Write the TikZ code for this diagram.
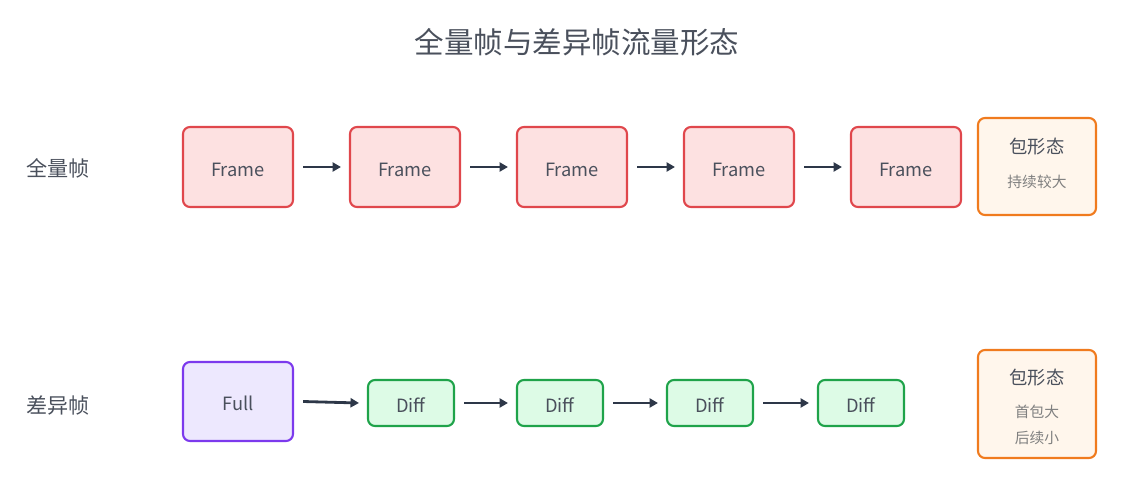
\documentclass[tikz,border=0pt]{standalone}
\usepackage{fontspec}
\setmainfont{Noto Sans CJK SC}
\usetikzlibrary{arrows.meta}
\definecolor{framefill}{HTML}{FDE1E1}
\definecolor{frameline}{HTML}{E0474C}
\definecolor{fullfill}{HTML}{EDE8FE}
\definecolor{fullline}{HTML}{7C3AED}
\definecolor{difffill}{HTML}{DDFBE6}
\definecolor{diffline}{HTML}{1FA34A}
\definecolor{pktfill}{HTML}{FFF6EC}
\definecolor{pktline}{HTML}{F07B1E}
\definecolor{arrowcol}{HTML}{2D3748}
\definecolor{textcol}{HTML}{4A505C}
\newcommand{\lowered}[1]{\smash{\raisebox{-6.5pt}{#1}}}
\tikzset{
  box/.style={draw, line width=1.5pt, rounded corners=5pt, inner sep=0pt, text=textcol, font=\fontsize{13}{15}\selectfont},
  frame/.style={box, fill=framefill, draw=frameline, minimum width=110*0.025cm, minimum height=80*0.025cm},
  full/.style={box, fill=fullfill, draw=fullline, minimum width=110*0.025cm, minimum height=79*0.025cm},
  diff/.style={box, fill=difffill, draw=diffline, minimum width=86*0.025cm, minimum height=46*0.025cm},
  pkt/.style={box, fill=pktfill, draw=pktline, minimum width=118*0.025cm},
  flow/.style={-{Triangle[length=6pt,width=6.5pt]}, line width=2pt, draw=arrowcol},
  rowlabel/.style={text=textcol, font=\fontsize{15}{17}\selectfont},
  sub/.style={text=gray, font=\fontsize{10.5}{12}\selectfont}
}
\begin{document}
\begin{tikzpicture}[x=0.025cm, y=-0.025cm]
  \useasboundingbox (0,0) rectangle (1124,486);
  % title
  \node[text=textcol, font=\fontsize{21}{25}\selectfont] (title) at (577,42) {全量帧与差异帧流量形态};

  % full-frame row
  \node[rowlabel] (lblA) at (58,168) {全量帧};
  \foreach \i/\x in {1/238, 2/405, 3/572, 4/739, 5/906}
    \node[frame] (F\i) at (\x,167) {\lowered{Frame}};
  \foreach \i/\j in {1/2, 2/3, 3/4, 4/5}
    \draw[flow] ([xshift=9*0.025cm]F\i.east) -- ([xshift=-8*0.025cm]F\j.west);
  \node[pkt, minimum height=97*0.025cm] (P1) at (1037,166.5) {};
  \node[text=textcol, font=\fontsize{13}{15}\selectfont] (P1t) at (1037,147) {包形态};
  \node[sub] (P1s) at (1037,182) {持续较大};

  % diff-frame row
  \node[rowlabel] (lblB) at (58,405) {差异帧};
  \node[full] (D0) at (238,401.5) {\lowered{Full}};
  \foreach \i/\x in {1/411, 2/560, 3/710, 4/861}
    \node[diff] (D\i) at (\x,403) {\lowered{Diff}};
  \draw[flow] ([xshift=9*0.025cm]D0.east) -- ([xshift=-8*0.025cm]D1.west);
  \foreach \i/\j in {1/2, 2/3, 3/4}
    \draw[flow] ([xshift=9*0.025cm]D\i.east) -- ([xshift=-8*0.025cm]D\j.west);
  \node[pkt, minimum height=108*0.025cm] (P2) at (1037,404) {};
  \node[text=textcol, font=\fontsize{13}{15}\selectfont] (P2t) at (1037,378) {包形态};
  \node[sub] (P2s) at (1037,412) {首包大};
  \node[sub] (P2u) at (1037,438) {后续小};
\end{tikzpicture}
\end{document}
